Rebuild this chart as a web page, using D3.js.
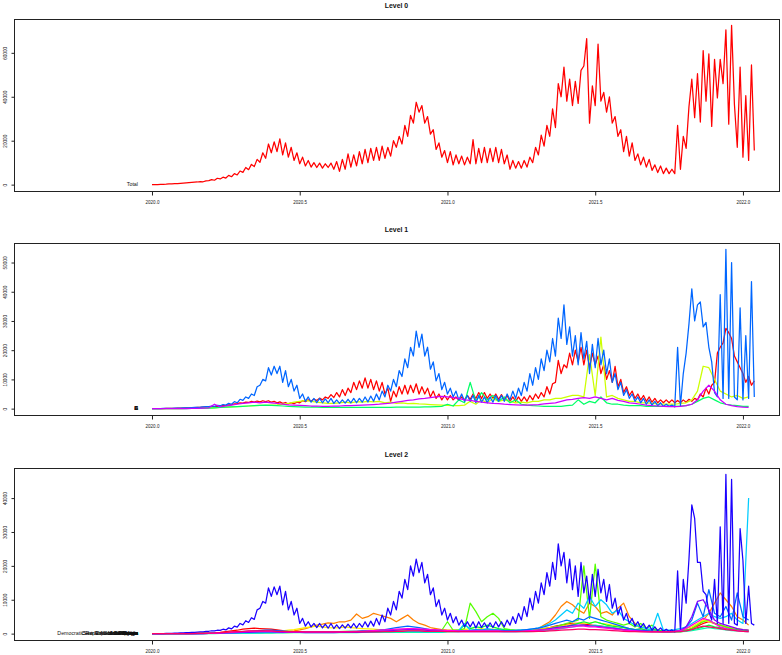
<!DOCTYPE html>
<html>
<head>
<meta charset="utf-8">
<script src="https://cdn.jsdelivr.net/npm/d3@7"></script>
<style>
body { margin: 0; background: #fff; }
svg text { font-family: "Liberation Sans", Arial, Helvetica, sans-serif; fill: #111; }
</style>
</head>
<body>
<svg id="chart"></svg>
<script>
// time grid: readings start at 2020.0, two a week or one a week
var startYear = 2020;
var halfWeekly = 104;
var weekly = 52;

var xTicks = [2020.0, 2020.5, 2021.0, 2021.5, 2022.0];
var yTicks0 = [0, 20000, 40000, 60000];
var yTicks1 = [0, 10000, 20000, 30000, 40000, 50000];
var yTicks2 = [0, 10000, 20000, 30000, 40000];

var titles = ["Level 0", "Level 1", "Level 2"];
var labels0 = ["Total"];
var labels1 = ["A", "B", "C", "D", "E"];
var labels2 = ["Democratic Republic of the Congo", "Central African Republic", "Sao Tome and Principe",
    "Equatorial Guinea", "Guinea-Bissau", "South Africa", "Mozambique", "Cameroon",
    "Zimbabwe", "Ethiopia", "Nigeria", "Kenya"];

// Level 0 (two readings a week)
var total = [0,20,50,100,150,200,300,350,450,500,
    600,700,800,900,1000,1100,1200,1400,1300,1700,
    1800,2300,2000,2900,2600,3400,3000,4200,3600,5000,
    4400,6200,5600,7800,6800,9200,8200,11500,10200,14500,
    12000,18500,14500,19500,15000,20800,13500,19000,12500,17000,
    11000,14500,9500,12500,8500,11000,8000,10000,7800,9800,
    7500,9500,7800,9800,7000,10500,6000,11500,7000,14000,
    8000,13500,8500,15000,9500,16000,10000,16500,11000,17000,
    11000,17500,12000,17000,13000,20000,17000,22000,18500,27000,
    22000,31500,28000,37500,33000,36000,28000,31000,23000,25000,
    16000,19000,12500,15500,10000,15000,9000,13500,9500,13000,
    9000,12500,9500,20500,9500,16500,10000,17000,10000,16500,
    10500,17000,10000,16000,9500,13500,7000,11000,7500,10500,
    7500,11000,8000,12500,10000,17000,13500,22500,17500,27000,
    22000,34500,26000,46000,40000,53500,38000,48000,36000,47000,
    37000,52000,54000,66500,28000,45000,36000,64000,38000,42000,
    33000,40000,28000,31000,22000,25000,15000,22000,13000,19000,
    11000,14000,9000,12500,8000,11500,6500,9000,5500,8500,
    5000,7500,5000,7000,5000,27000,7000,22000,16500,35500,
    48000,30500,50500,28500,61000,38000,59500,26500,57000,39500,
    57000,46000,70500,27500,72500,36500,17000,53500,12500,40500,
    11000,54500,15500];

// Level 1
var l1Red = [0,0,0,0,0,50,50,100,100,150,
    200,200,250,300,300,350,400,450,500,550,
    600,700,700,800,900,1000,1100,1300,1400,1600,
    1700,2000,1900,2200,2100,2500,2200,2600,2300,2700,
    2400,2700,2200,2500,2000,2300,1800,2100,1600,2000,
    1700,2200,2000,2700,2400,3000,2600,3200,2800,3600,
    3000,4000,3500,4800,3800,5500,4000,6500,4500,7000,
    5500,9000,6500,9500,7000,10500,7000,10000,6500,9500,
    6000,9000,5000,7000,2500,6000,4000,7500,5000,8000,
    5000,8000,5500,8500,5000,7500,5000,7000,4000,6000,
    3500,5000,3000,4500,3000,4500,3000,4000,2800,4000,
    3000,4500,3200,5000,3500,5500,3500,5500,3500,5000,
    3500,5000,3200,4800,3000,4500,2500,4000,2500,4000,
    2500,4000,2500,4500,3000,5000,3500,5500,4000,7500,
    5000,8500,9000,16500,12000,15000,14000,19000,15000,20000,
    16000,21000,15000,20000,14000,19000,15000,18000,12000,15000,
    10000,13000,9000,14500,7500,10000,5500,7500,4500,6000,
    3500,5000,3000,4500,2500,4000,2200,3500,2000,3000,
    2000,3000,2000,3000,2000,2800,2000,3000,2200,3200,
    2500,3500,3000,5000,4000,7000,5000,8000,9000,19000,
    21000,22500,27500,26000,24000,18000,16000,14000,12000,9000,
    11000,8000,9500];

var l1Yellow = [0,0,0,0,0,0,50,100,150,200,
    250,300,400,500,600,700,800,900,1000,1100,
    1100,1200,1300,1500,1800,2200,2500,2800,2500,2200,
    2000,1800,1800,2000,2200,2000,2400,2200,2500,2300,
    2500,2000,2200,1800,2000,1700,1800,1600,1500,1400,
    1300,1200,1100,1000,1000,1200,2500,1500,3000,2000,
    3500,2500,3000,2500,2000,2200,2000,2500,2500,3000,
    3000,3500,3500,4000,4500,4500,4000,18500,4500,24500,
    4000,4500,3500,3000,2500,2500,2000,2000,1800,1600,
    1500,1500,1500,1800,2000,3000,6000,14500,14000,10000,
    6000,5000,4000,4500,3500,4000];

var l1Green = [0,0,0,0,0,0,0,50,100,150,
    200,300,400,500,600,700,800,900,1000,1100,
    1200,1100,1000,900,800,700,600,500,500,500,
    400,400,400,400,400,400,400,400,400,400,
    400,400,400,500,500,500,500,500,600,600,
    700,800,1500,900,3000,2000,9000,2500,5500,3000,
    4500,2500,4000,2000,3000,1500,1200,1000,900,800,
    800,800,800,1000,1200,3000,1500,2500,2000,4000,
    2000,1500,1500,1200,1000,1000,1000,800,800,800,
    800,800,800,900,1000,1500,2500,3500,4000,3000,
    2000,1500,1200,1000,800,800];

var l1Blue = [0,0,0,0,50,50,100,100,150,200,
    200,250,300,300,350,400,450,500,600,700,
    700,900,800,1100,1000,1400,1200,1800,1500,2400,
    2000,3200,2800,4000,3500,5000,4500,7500,8000,10000,
    9500,14000,11500,14500,12000,14500,9000,13000,7500,10000,
    6000,8000,3500,5000,2500,4000,2200,3500,2000,3500,
    2000,3300,2000,3500,1800,3000,1800,3000,1900,3200,
    2000,3500,2000,3500,2200,4000,2300,4300,2500,5000,
    3000,6000,4000,8000,6000,10000,7500,13000,11000,17000,
    14000,21000,18000,26500,21000,25500,18000,21000,13500,16000,
    9500,12000,6500,9000,5000,7000,4000,6000,3000,5000,
    2500,4500,2500,4500,2000,4500,2200,4000,2000,4000,
    2200,4500,2500,4500,2500,5000,3000,6000,3500,7000,
    4500,9000,6000,12000,8000,14000,10000,17000,13000,20000,
    16000,24000,18000,31000,24000,35500,22000,28000,18000,25000,
    15000,26000,17000,23000,12000,22000,14000,24000,15000,20000,
    12000,17000,9000,12000,6500,9000,4500,6500,3500,5000,
    2500,4000,2000,3500,1500,3000,1200,2500,1000,2000,
    800,1500,800,1200,600,21000,1000,12000,19000,29000,
    41000,30000,35500,36500,28000,29500,21000,16000,5500,4000,
    39000,3500,54500,3500,50000,4000,3000,34500,3000,25000,
    3500,43500,4000];

var l1Magenta = [0,0,0,0,0,0,0,50,100,200,
    300,1500,600,900,1200,1500,1800,2000,2200,2000,
    2200,2000,1800,1500,1300,1200,1100,1000,900,900,
    800,800,900,900,1000,1000,1100,1200,1300,1400,
    1500,1700,1900,2200,2500,2800,3000,3300,3500,3800,
    4000,4200,4000,3800,3500,3000,2800,2500,2200,2000,
    1800,1700,1500,1400,1300,1200,1200,1300,1400,1600,
    1800,2000,2500,3000,3200,3500,3800,3500,4000,3500,
    3000,3500,2800,2500,2000,1800,1500,1200,1000,900,
    800,700,700,800,1000,1500,3000,6000,8000,6000,
    3000,1500,1000,700,500,400];

// Level 2
var l2Red = [0,0,0,0,0,0,0,50,100,150,
    200,300,400,600,800,1000,1300,1500,1600,1500,
    1400,1300,1100,900,700,600,500,500,500,500,
    500,500,500,500,500,600,600,700,700,800,
    800,900,900,1000,1000,1100,1100,1200,1200,1100,
    1000,900,900,800,800,700,700,700,700,700,
    700,700,700,700,700,800,900,1000,1200,1500,
    1800,2200,2500,2800,3000,3000,2800,2600,2400,2200,
    2000,1800,1500,1200,1000,900,800,700,600,600,
    600,600,700,800,1000,1500,2200,3000,3500,3000,
    2500,2000,1500,1200,1000,900];

var l2Orange = [0,0,0,0,0,0,0,0,50,100,
    100,150,200,250,300,300,350,400,400,450,
    450,500,500,550,700,800,1100,1500,2000,2500,
    2800,3200,3000,3500,3500,4000,5800,4500,5000,6000,
    5500,5000,4500,3500,4500,5500,4000,3000,2500,1800,
    1500,1200,1000,1000,900,900,900,1000,1000,1000,
    1000,900,900,800,800,800,900,1000,1500,2500,
    3500,5500,8000,9500,8500,7000,6000,9000,8000,6000,
    6500,5500,7500,9000,5000,3000,1500,1000,800,700,
    600,600,700,800,1000,1500,2500,4000,6000,9000,
    12000,10000,8000,5000,4000,2500];

var l2Yellow = [0,0,0,0,0,0,0,0,50,50,
    100,100,150,150,200,250,300,350,400,450,
    500,600,700,800,1000,1200,1500,1800,2000,2200,
    2000,1800,1700,1800,2000,1800,1600,1500,1400,1300,
    1200,1100,1000,1000,900,900,800,800,800,800,
    800,800,800,900,1000,1200,1500,1200,1500,1200,
    1300,1200,1100,1000,1000,1000,1100,1200,1300,1500,
    1800,2000,2200,2500,2800,3000,3200,3000,3500,3000,
    2800,2500,2200,1800,1500,1200,1000,900,800,800,
    800,800,900,1000,1500,2000,3000,4000,3500,3000,
    2500,2000,1800,1500,1200,1000];

var l2Lime = [0,0,0,0,0,0,0,0,0,50,
    50,100,100,150,200,200,250,300,300,300,
    300,300,300,300,300,350,400,450,500,500,
    500,550,600,600,650,700,700,750,800,800,
    800,800,800,700,700,600,600,600,600,700,
    800,1000,3500,1000,1000,1500,9000,6500,3500,5000,
    6000,4500,1500,1200,1000,900,900,1000,1200,1300,
    1500,2000,2500,3000,3500,4000,20000,4500,20500,5000,
    4000,3500,3000,2500,3000,2000,3000,1500,2500,1000,
    800,600,600,500,800,1500,2500,3500,4000,3000,
    2500,2000,1500,1000,800,700];

var l2Green = [0,0,0,0,0,0,0,0,0,0,
    50,50,100,100,150,150,200,200,250,250,
    300,300,350,350,400,400,450,450,500,500,
    500,500,500,500,500,500,500,500,500,500,
    500,500,500,500,500,500,500,500,500,500,
    500,600,700,800,1000,2500,1500,2000,1800,2500,
    2000,1500,1200,1000,900,800,800,800,900,1000,
    1200,1500,1800,2000,2500,3000,3500,3000,3500,3000,
    2500,2200,2000,1800,1500,1200,1500,1000,1500,900,
    800,800,800,900,1000,1200,1500,2000,2500,2000,
    1800,1500,1200,1000,800,700];

var l2Spring = [0,0,0,0,0,0,0,0,0,0,
    0,0,50,50,100,100,150,150,200,200,
    250,250,300,300,300,300,300,300,300,300,
    300,300,300,300,300,300,300,350,350,350,
    400,400,400,400,400,400,400,400,400,400,
    400,400,500,500,600,800,700,800,700,800,
    700,700,600,600,600,600,600,700,800,900,
    1000,1200,1500,1800,2000,2200,2500,2200,2500,2200,
    2000,1800,1500,1200,1000,800,700,600,600,600,
    500,500,500,600,700,900,1200,1500,1800,1500,
    1300,1100,900,800,700,600];

var l2Cyan = [0,0,0,0,0,0,0,0,0,0,
    50,50,100,100,150,150,200,200,250,250,
    300,300,300,300,350,350,400,400,400,450,
    450,500,500,500,550,550,600,600,650,650,
    700,700,700,700,700,650,650,600,600,600,
    600,600,700,800,900,3000,1000,1200,1000,1500,
    1200,1000,900,900,1000,1100,1200,1400,1700,2200,
    3000,4000,5500,7000,6000,9000,7500,11000,8000,10000,
    8500,6000,7000,4500,3500,2500,2000,1500,1200,6000,
    1000,1000,1200,1500,2000,3000,4000,5000,6000,5000,
    4500,5000,6000,4000,3000,40000];

var l2Azure = [0,0,0,0,0,0,0,0,0,50,
    100,150,200,300,400,500,600,700,800,900,
    1000,1000,900,800,700,600,500,500,500,500,
    500,500,500,600,600,700,700,800,800,900,
    1000,1200,1500,1800,2000,2200,2000,1800,1500,1200,
    1000,900,800,800,800,800,900,1000,1000,1000,
    1000,1000,900,900,900,1000,1200,1400,1600,2000,
    2500,3000,3500,4000,3500,4500,4000,5000,4500,4000,
    3500,3000,2500,2000,1500,1200,1000,900,800,700,
    600,600,600,800,2000,4000,9000,5000,13000,6000,
    5000,8000,4000,12000,5000,4000];

var l2Blue = [0,0,0,0,0,50,50,100,150,150,
    200,250,300,300,350,400,450,500,550,650,
    700,850,800,1000,950,1300,1100,1700,1400,2200,
    1900,3000,2600,3800,3300,4700,4200,7000,7500,9500,
    9000,13500,11000,13800,11500,14000,8500,12500,7000,9500,
    5500,7500,3000,4500,2200,3500,2000,3000,1800,3000,
    1700,2800,1600,3000,1500,2600,1500,2600,1600,2800,
    1700,3000,1700,3000,1900,3500,2000,3700,2200,4500,
    2600,5500,3500,7500,5500,9500,7000,12500,10500,16000,
    13000,20000,17000,22000,18000,21000,15000,17500,11500,13500,
    8000,10000,5500,7500,4000,6000,3200,5000,2500,4000,
    2000,3500,2000,3500,1700,3500,1800,3200,1700,3200,
    1800,3500,2000,3500,2000,4000,2500,5000,3000,6000,
    4000,8000,5000,10500,7000,12500,9000,15000,11500,18000,
    14000,21000,16000,26500,20000,24000,15000,22000,13000,20000,
    11000,21000,12000,17000,9000,17500,11000,19000,12000,16000,
    9500,14500,7500,10500,5500,8000,4000,6000,3000,4500,
    2200,3500,1800,3000,1400,2500,1000,2000,900,1700,
    700,1300,700,1100,500,18500,800,16000,9000,22000,
    38000,34000,21000,21000,12500,11500,6500,4000,16000,3000,
    31500,3000,47000,3000,45500,3000,2500,31000,21500,3000,
    14000,3000,2500];

var l2Violet = [0,0,0,0,0,0,0,0,0,0,
    50,100,150,200,250,300,350,400,450,500,
    500,500,450,400,400,350,350,300,300,300,
    300,300,300,350,350,400,400,450,500,600,
    700,800,900,1000,1100,1200,1200,1100,1000,900,
    800,700,700,700,600,600,600,600,600,600,
    600,600,600,600,600,700,800,900,1000,1200,
    1500,1800,2000,2200,2500,2500,2500,2300,2200,2000,
    1800,1600,1400,1200,1000,900,800,700,600,600,
    600,600,700,1000,2000,5000,9500,10000,7000,4000,
    3000,2500,2000,1500,1200,1000];

var l2Magenta = [0,0,0,0,0,0,0,0,0,0,
    50,100,200,300,400,500,600,700,700,700,
    700,700,600,600,500,500,500,500,500,500,
    500,500,500,500,600,600,700,700,800,900,
    1000,1100,1200,1300,1400,1500,1500,1400,1300,1200,
    1100,1000,900,900,800,800,800,800,800,800,
    800,800,700,700,700,700,800,900,1000,1100,
    1200,1400,1600,1800,2000,2200,2200,2000,2000,1800,
    1600,1400,1200,1000,900,800,700,600,600,600,
    600,600,700,900,1500,2500,3500,4500,4000,3000,
    2000,1500,1200,900,700,600];

var l2Pink = [0,0,0,0,0,0,0,0,50,100,
    150,200,300,400,500,600,700,800,800,800,
    800,800,700,700,600,600,600,500,500,500,
    500,500,500,500,500,500,500,500,500,500,
    500,600,600,700,700,800,800,800,700,700,
    700,700,600,600,600,600,600,600,600,600,
    600,600,600,600,600,600,600,600,700,700,
    800,900,1000,1100,1200,1300,1300,1200,1200,1100,
    1000,900,800,700,600,600,500,500,500,500,
    500,500,500,600,800,1200,1800,2200,2000,1800,
    1500,1200,1000,800,700,600];

// panels, series in drawing order
var panels = [
    { title: titles[0], labels: labels0, yTicks: yTicks0, series: [
        { values: total, steps: halfWeekly, color: "#FF0000" }
    ]},
    { title: titles[1], labels: labels1, yTicks: yTicks1, series: [
        { values: l1Red, steps: halfWeekly, color: "#FF0000" },
        { values: l1Yellow, steps: weekly, color: "#CCFF00" },
        { values: l1Green, steps: weekly, color: "#00FF66" },
        { values: l1Blue, steps: halfWeekly, color: "#0066FF" },
        { values: l1Magenta, steps: weekly, color: "#CC00FF" }
    ]},
    { title: titles[2], labels: labels2, yTicks: yTicks2, series: [
        { values: l2Red, steps: weekly, color: "#FF0000" },
        { values: l2Orange, steps: weekly, color: "#FF8000" },
        { values: l2Yellow, steps: weekly, color: "#FFEE00" },
        { values: l2Lime, steps: weekly, color: "#55FF00" },
        { values: l2Green, steps: weekly, color: "#00FF33" },
        { values: l2Spring, steps: weekly, color: "#00FFAA" },
        { values: l2Cyan, steps: weekly, color: "#00CCFF" },
        { values: l2Azure, steps: weekly, color: "#0066FF" },
        { values: l2Blue, steps: halfWeekly, color: "#1A00FF" },
        { values: l2Violet, steps: weekly, color: "#8000FF" },
        { values: l2Magenta, steps: weekly, color: "#FF00E6" },
        { values: l2Pink, steps: weekly, color: "#FF0066" }
    ]}
];

var w = 782, h = 655;
var boxLeft = 14, boxRight = 779;
var panelTop = [19, 243, 468];
var panelH = 172;
var labelX = 138;

var svg = d3.select("#chart")
    .attr("width", w)
    .attr("height", h);

var x = d3.scaleLinear()
    .domain([2019.533, 2022.122])
    .range([boxLeft, boxRight]);

function toPoints(values, steps) {
    return values.map(function (v, i) { return { t: startYear + i / steps, v: v }; });
}

panels.forEach(function (p, k) {
    var top = panelTop[k];
    var bottom = top + panelH;

    // R style 4% padding around the data range
    var maxV = d3.max(p.series, function (s) { return d3.max(s.values); });
    var y = d3.scaleLinear()
        .domain([-0.04 * maxV, 1.04 * maxV])
        .range([bottom, top]);

    var g = svg.append("g");

    g.append("text")
        .attr("x", (boxLeft + boxRight) / 2)
        .attr("y", top - 11.5)
        .attr("text-anchor", "middle")
        .attr("font-weight", "bold")
        .attr("font-size", "6.9px")
        .text(p.title);

    var line = d3.line()
        .x(function (d) { return x(d.t); })
        .y(function (d) { return y(d.v); });

    p.series.forEach(function (s) {
        g.append("path")
            .datum(toPoints(s.values, s.steps))
            .attr("fill", "none")
            .attr("stroke", s.color)
            .attr("stroke-width", 1.25)
            .attr("stroke-linejoin", "round")
            .attr("d", line);
    });

    // series names, all stacked at the zero line
    p.labels.forEach(function (lab) {
        g.append("text")
            .attr("x", labelX)
            .attr("y", y(0))
            .attr("dy", "0.35em")
            .attr("text-anchor", "end")
            .attr("font-size", "5.3px")
            .text(lab);
    });

    g.append("rect")
        .attr("x", boxLeft + 0.5)
        .attr("y", top + 0.5)
        .attr("width", boxRight - boxLeft)
        .attr("height", panelH)
        .attr("fill", "none")
        .attr("stroke", "#222")
        .attr("stroke-width", 1);

    // x axis
    var xAxis = g.append("g")
        .attr("transform", "translate(0," + (bottom + 0.5) + ")")
        .call(d3.axisBottom(x).tickValues(xTicks).tickFormat(d3.format(".1f"))
            .tickSize(4).tickSizeOuter(0).tickPadding(5));
    xAxis.select(".domain").remove();
    xAxis.selectAll("line").attr("stroke", "#222");
    xAxis.selectAll("text").attr("font-size", "4.5px").attr("font-family", null).style("fill", "#222");

    // y axis with rotated labels
    var yAxis = g.append("g")
        .attr("transform", "translate(" + (boxLeft + 0.5) + ",0)")
        .call(d3.axisLeft(y).tickValues(p.yTicks).tickFormat(d3.format("d"))
            .tickSize(3).tickSizeOuter(0));
    yAxis.select(".domain").remove();
    yAxis.selectAll("line").attr("stroke", "#222");
    yAxis.selectAll("text")
        .attr("x", null)
        .attr("dy", null)
        .attr("text-anchor", "middle")
        .attr("transform", "translate(-7.5,0) rotate(-90)")
        .attr("font-size", "4.7px")
        .attr("font-family", null)
        .style("fill", "#222");
});
</script>
</body>
</html>
